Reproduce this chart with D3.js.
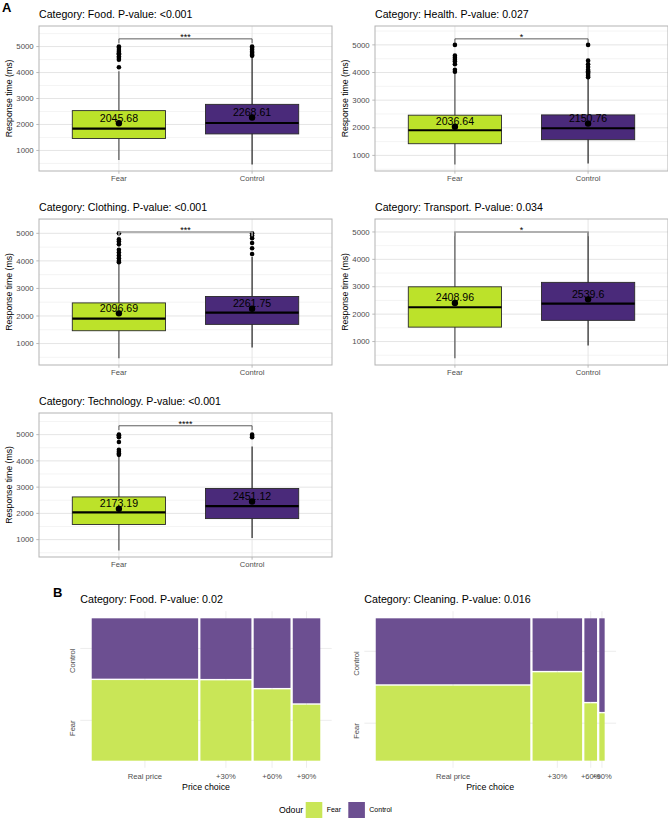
<!DOCTYPE html>
<html><head><meta charset="utf-8">
<script src="https://cdn.jsdelivr.net/npm/d3@7"></script>
<style>
body{margin:0;background:#fff}
svg{display:block}
text{font-family:"Liberation Sans",Arial,Helvetica,sans-serif}
</style>
</head><body>
<svg id="chart" width="668" height="818"></svg>
<script>
// ---------------- DATA ----------------
const groups = ["Fear", "Control"];
const boxCategories = ["Food", "Health", "Clothing", "Transport", "Technology"];
const boxPValues = ["<0.001", "0.027", "<0.001", "0.034", "<0.001"];
const boxSignif = ["***", "*", "***", "*", "****"];
// [Fear, Control] per category
const whiskerLow  = [[628, 463], [673, 709], [462, 854], [386, 853], [588, 1064]];
const q1          = [[1460, 1637], [1422, 1567], [1465, 1695], [1526, 1773], [1577, 1802]];
const medians     = [[1844, 2058], [1909, 1982], [1904, 2123], [2251, 2387], [2038, 2274]];
const q3          = [[2534, 2775], [2455, 2465], [2475, 2709], [2998, 3160], [2627, 2949]];
const whiskerHigh = [[4050, 4600], [3980, 3780], [3950, 4150], [5000, 5000], [4150, 4550]];
const means       = [[2045.68, 2268.61], [2036.64, 2150.76], [2096.69, 2261.75], [2408.96, 2539.6], [2173.19, 2451.12]];
const outliers = [
  [[4205, 4490, 4560, 4615, 4700, 4740, 4800, 4870, 4950, 5000], [4650, 4680, 4750, 4800, 4880, 4950, 5000]],
  [[4030, 4100, 4300, 4400, 4460, 4530, 4610, 5000], [3830, 3880, 3950, 4000, 4050, 4100, 4200, 4300, 4430, 5000]],
  [[3950, 4000, 4100, 4200, 4300, 4400, 4600, 4700, 4780, 5000], [4250, 4460, 4650, 4820, 4920, 5000]],
  [[], []],
  [[4230, 4280, 4350, 4420, 4720, 4900, 4950, 4980, 5000], [4900, 4950, 5000]]
];
const bracketValue = [5296, 5218, 5050, 5000, 5337];

const mosaicCategories = ["Food", "Cleaning"];
const mosaicPValues = ["0.02", "0.016"];
const priceChoices = ["Real price", "+30%", "+60%", "+90%"];
const priceShare = [[0.480, 0.230, 0.166, 0.124], [0.696, 0.223, 0.057, 0.024]];
const fearShare  = [[0.572, 0.570, 0.506, 0.397], [0.532, 0.627, 0.407, 0.336]];

// ---------------- STYLE / LAYOUT ----------------
const boxFill = {Fear: "#bce22a", Control: "#4a2a7a"};
const whiskerColor = {Fear: "#444", Control: "#111"};
const mosaicFill = {Fear: "#c9e657", Control: "#6c4f91"};
const bracketGray = [false, false, true, true, false];
const colX = [39, 375], panelW = 293;
const rowTop = [26, 219, 413], rowBottom = [171, 365, 557];

const svg = d3.select("#chart");

function drawBoxPanel(i) {
  const col = i % 2, row = Math.floor(i / 2);
  const x0 = colX[col], x1 = x0 + panelW, y0 = rowTop[row], y1 = rowBottom[row];
  const g = svg.append("g");

  const allVals = [...whiskerLow[i], ...outliers[i][0], ...outliers[i][1]];
  const lo = d3.min(allVals);
  const hi = bracketValue[i] + 0.05 * (bracketValue[i] - lo);
  const span = hi - lo;
  const y = d3.scaleLinear().domain([lo - 0.05 * span, hi + 0.05 * span]).range([y1, y0]);
  const x = d3.scalePoint().domain(groups).range([x0, x1]).padding(0.6);
  const hw = 0.35 * x.step();

  const majors = y.ticks(5).filter(t => t >= y.domain()[0] && t <= y.domain()[1]);
  const step = majors[1] - majors[0];
  const minors = d3.range(Math.ceil(y.domain()[0] / (step / 2)) * step / 2, y.domain()[1], step / 2)
    .filter(t => !majors.includes(t));

  g.selectAll(".minor").data(minors).join("line")
    .attr("x1", x0).attr("x2", x1).attr("y1", d => y(d)).attr("y2", d => y(d))
    .attr("stroke", "#ececec").attr("stroke-width", 0.6);
  g.selectAll(".major").data(majors).join("line")
    .attr("x1", x0).attr("x2", x1).attr("y1", d => y(d)).attr("y2", d => y(d))
    .attr("stroke", "#e2e2e2").attr("stroke-width", 0.9);
  g.selectAll(".vmajor").data(groups).join("line")
    .attr("x1", d => x(d)).attr("x2", d => x(d)).attr("y1", y0).attr("y2", y1)
    .attr("stroke", "#e2e2e2").attr("stroke-width", 0.9);

  groups.forEach((grp, k) => {
    const cx = x(grp);
    g.append("line").attr("x1", cx).attr("x2", cx)
      .attr("y1", y(whiskerLow[i][k])).attr("y2", y(whiskerHigh[i][k]))
      .attr("stroke", whiskerColor[grp]).attr("stroke-width", 1.1);
    g.append("rect").attr("x", cx - hw).attr("width", 2 * hw)
      .attr("y", y(q3[i][k])).attr("height", y(q1[i][k]) - y(q3[i][k]))
      .attr("fill", boxFill[grp]).attr("stroke", "#2a2a2a").attr("stroke-width", 0.9);
    g.append("line").attr("x1", cx - hw).attr("x2", cx + hw)
      .attr("y1", y(medians[i][k])).attr("y2", y(medians[i][k]))
      .attr("stroke", "#000").attr("stroke-width", 2.2);
    g.selectAll(null).data(outliers[i][k]).join("circle")
      .attr("cx", cx).attr("cy", d => y(d)).attr("r", 2.3).attr("fill", "#000");
    g.append("circle").attr("cx", cx).attr("cy", y(means[i][k])).attr("r", 3.2).attr("fill", "#000");
    g.append("text").attr("x", cx).attr("y", y(means[i][k]) - 1.6)
      .attr("text-anchor", "middle").attr("font-size", 10.6).attr("fill", "#000")
      .text(means[i][k]);
  });

  // significance bracket
  const yb = y(bracketValue[i]);
  const tip = 0.03 * (y1 - y0);
  const xa = x(groups[0]), xc = x(groups[1]);
  g.append("path")
    .attr("d", `M${xa},${yb + tip}L${xa},${yb}L${xc},${yb}L${xc},${yb + tip}`)
    .attr("fill", "none")
    .attr("stroke", bracketGray[i] ? "#9a9a9a" : "#333")
    .attr("stroke-width", bracketGray[i] ? 1.6 : 0.8);
  g.append("text").attr("x", (xa + xc) / 2).attr("y", yb + 1.5)
    .attr("text-anchor", "middle").attr("font-size", 9).attr("fill", "#000")
    .text(boxSignif[i]);

  // border
  g.append("rect").attr("x", x0).attr("y", y0).attr("width", panelW).attr("height", y1 - y0)
    .attr("fill", "none").attr("stroke", "#b3b3b3").attr("stroke-width", 1);

  // axes
  g.selectAll(".yt").data(majors).join("line")
    .attr("x1", x0 - 2.7).attr("x2", x0).attr("y1", d => y(d)).attr("y2", d => y(d))
    .attr("stroke", "#b3b3b3").attr("stroke-width", 0.9);
  g.selectAll(".yl").data(majors).join("text")
    .attr("x", x0 - 5.3).attr("y", d => y(d)).attr("dy", "0.35em")
    .attr("text-anchor", "end").attr("font-size", 7.8).attr("fill", "#4d4d4d")
    .text(d => d);
  g.selectAll(".xt").data(groups).join("line")
    .attr("x1", d => x(d)).attr("x2", d => x(d)).attr("y1", y1).attr("y2", y1 + 2.7)
    .attr("stroke", "#b3b3b3").attr("stroke-width", 0.9);
  g.selectAll(".xl").data(groups).join("text")
    .attr("x", d => x(d)).attr("y", y1 + 10.2)
    .attr("text-anchor", "middle").attr("font-size", 7.6).attr("fill", "#4d4d4d")
    .text(d => d);
  g.append("text")
    .attr("transform", `translate(${x0 - 27},${(y0 + y1) / 2}) rotate(-90)`)
    .attr("text-anchor", "middle").attr("font-size", 8.7).attr("fill", "#000")
    .text("Response time (ms)");
  g.append("text").attr("x", x0).attr("y", y0 - 8.5)
    .attr("font-size", 10.6).attr("fill", "#000")
    .text(`Category: ${boxCategories[i]}. P-value: ${boxPValues[i]}`);
}

boxCategories.forEach((c, i) => drawBoxPanel(i));

// ---------------- MOSAIC ----------------
const mosX = [[80.3, 331.7], [364.3, 616.1]];
const mosY = [611.2, 767.8];
const off = 0.01;

function drawMosaic(m) {
  const g = svg.append("g");
  const [px0, px1] = mosX[m];
  const x = d3.scaleLinear().domain([-0.05, 1.05]).range([px0, px1]);
  const y = d3.scaleLinear().domain([-0.05, 1.05]).range([mosY[1], mosY[0]]);
  const n = priceChoices.length;
  const usable = 1 - off * (n - 1);
  let cum = 0;
  const cols = priceChoices.map((p, k) => {
    const w = priceShare[m][k] * usable;
    const c = {label: p, x0: cum, x1: cum + w, f: fearShare[m][k] * (1 - off)};
    cum += w + off;
    return c;
  });
  const yTicks = [
    {label: "Control", v: (cols[0].f + off + 1) / 2},
    {label: "Fear", v: cols[0].f / 2}
  ];
  // grid
  g.selectAll(".hg").data(yTicks).join("line")
    .attr("x1", px0).attr("x2", px1).attr("y1", d => y(d.v)).attr("y2", d => y(d.v))
    .attr("stroke", "#ebebeb").attr("stroke-width", 0.9);
  g.selectAll(".vg").data(cols).join("line")
    .attr("x1", d => x((d.x0 + d.x1) / 2)).attr("x2", d => x((d.x0 + d.x1) / 2))
    .attr("y1", mosY[0]).attr("y2", mosY[1])
    .attr("stroke", "#ebebeb").attr("stroke-width", 0.9);
  // rects
  cols.forEach(c => {
    g.append("rect").attr("x", x(c.x0)).attr("width", x(c.x1) - x(c.x0))
      .attr("y", y(c.f)).attr("height", y(0) - y(c.f)).attr("fill", mosaicFill.Fear);
    g.append("rect").attr("x", x(c.x0)).attr("width", x(c.x1) - x(c.x0))
      .attr("y", y(1)).attr("height", y(c.f + off) - y(1)).attr("fill", mosaicFill.Control);
  });
  // axis labels
  g.selectAll(".xl").data(cols).join("text")
    .attr("x", d => x((d.x0 + d.x1) / 2)).attr("y", 778.5)
    .attr("text-anchor", "middle").attr("font-size", 7.6).attr("fill", "#4d4d4d")
    .text(d => d.label);
  g.selectAll(".yl").data(yTicks).join("text")
    .attr("transform", d => `translate(${px0 - 5},${y(d.v)}) rotate(-90)`)
    .attr("text-anchor", "end").attr("font-size", 7.6).attr("fill", "#4d4d4d")
    .text(d => d.label);
  g.append("text").attr("x", (px0 + px1) / 2).attr("y", 789.5)
    .attr("text-anchor", "middle").attr("font-size", 8.8).attr("fill", "#000")
    .text("Price choice");
  g.append("text").attr("x", px0).attr("y", 603.3)
    .attr("font-size", 10.7).attr("fill", "#000")
    .text(`Category: ${mosaicCategories[m]}. P-value: ${mosaicPValues[m]}`);
}
mosaicCategories.forEach((c, m) => drawMosaic(m));

// legend
const lg = svg.append("g");
lg.append("text").attr("x", 279).attr("y", 810).attr("dy", "0.35em")
  .attr("font-size", 8.7).attr("fill", "#000").text("Odour");
const keyX = {Fear: 305.7, Control: 348.3};
groups.forEach(grp => {
  lg.append("rect").attr("x", keyX[grp]).attr("y", 802).attr("width", 16.6).attr("height", 16.6)
    .attr("fill", mosaicFill[grp]);
  lg.append("text").attr("x", keyX[grp] + 21).attr("y", 810).attr("dy", "0.35em")
    .attr("font-size", 7).attr("fill", "#000").text(grp);
});

// panel tags
svg.append("text").attr("x", 2).attr("y", 11.5).attr("font-size", 13).attr("font-weight", "bold").text("A");
svg.append("text").attr("x", 53).attr("y", 597).attr("font-size", 13).attr("font-weight", "bold").text("B");
</script>
</body></html>
